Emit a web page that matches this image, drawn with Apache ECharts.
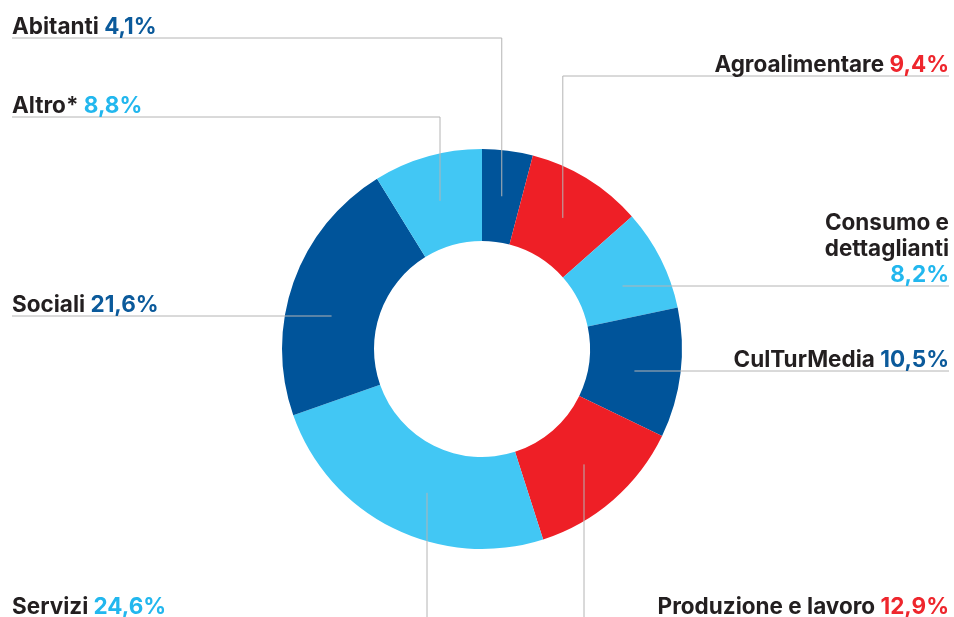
<!DOCTYPE html>
<html><head><meta charset="utf-8">
<script src="https://cdn.jsdelivr.net/npm/echarts@6/dist/echarts.min.js"></script>
<style>html,body{margin:0;padding:0;background:#fff}#c{width:954px;height:617px}</style>
</head><body><div id="c"></div>
<script>
// ---- data ----
const categories = ['Abitanti', 'Agroalimentare', 'Consumo e dettaglianti', 'CulTurMedia', 'Produzione e lavoro', 'Servizi', 'Sociali', 'Altro*'];
const shares = [4.1, 9.4, 8.2, 10.5, 12.9, 24.6, 21.6, 8.8];
const colorKeys = ['dark', 'red', 'light', 'dark', 'red', 'light', 'dark', 'light'];
const labelBreaks = { 'Consumo e dettaglianti': ['Consumo e', 'dettaglianti'] };

// ---- styling / layout ----
const PALETTE = { dark: '#00549a', red: '#ee1f26', light: '#42c7f4' };
const PCT_COLOR = { dark: '#0b5a9b', red: '#ee262d', light: '#22b7ee' };
const FONT = 'Inter, "Liberation Sans", Arial, sans-serif';
const FS = 22.5, LH = 26;
const CENTER = [482, 349];
const R_IN = 108, R_OUT = 200, R_ANCHOR = 154;
const LEFT_X = 12, RIGHT_PAD = 5;
const LABEL_LAYOUT = [
  { side: 'left', kind: 'elbow', y: 38 },
  { side: 'right', kind: 'elbow', y: 76 },
  { side: 'right', kind: 'flat', y: 286 },
  { side: 'right', kind: 'flat', y: 371 },
  { side: 'right', kind: 'down', x: 584 },
  { side: 'left', kind: 'down', x: 427 },
  { side: 'left', kind: 'flat', y: 316 },
  { side: 'left', kind: 'elbow', y: 117 }
];

const chart = echarts.init(document.getElementById('c'), null, { renderer: 'canvas' });
const total = shares.reduce((a, b) => a + b, 0);
const fmtPct = v => v.toFixed(1).replace('.', ',') + '%';

const sliceData = categories.map((name, i) => ({
  name, value: shares[i],
  itemStyle: { color: PALETTE[colorKeys[i]] }
}));
const labelData = categories.map((name, i) => ({
  name, value: shares[i],
  itemStyle: { color: 'rgba(0,0,0,0)' }
}));

const txt = c => ({ fontFamily: FONT, fontWeight: 'bold', fontSize: FS, color: c, lineHeight: LH });
const rich = {
  n: txt('#231f20'),
  dark: txt(PCT_COLOR.dark),
  red: txt(PCT_COLOR.red),
  light: txt(PCT_COLOR.light)
};

const base = {
  type: 'pie',
  center: CENTER,
  radius: [R_IN, R_OUT],
  startAngle: 90,
  clockwise: true,
  avoidLabelOverlap: false,
  emphasis: { disabled: true },
  silent: true
};

chart.setOption({
  animation: false,
  series: [
    Object.assign({}, base, { z: 2, data: sliceData, label: { show: false }, labelLine: { show: false } }),
    Object.assign({}, base, {
      z: 5,
      data: labelData,
      label: {
        show: true,
        position: 'outside',
        formatter: p => {
          const i = p.dataIndex;
          const pct = '{' + colorKeys[i] + '|' + fmtPct(shares[i]) + '}';
          const br = labelBreaks[categories[i]];
          if (br) return br.map(s => '{n|' + s + '}').join('\n') + '\n' + pct;
          return '{n|' + categories[i] + ' }' + pct;
        },
        rich
      },
      labelLine: { show: true, smooth: false, length: 10, length2: 10, lineStyle: { color: '#b4b4b4', width: 1 } },
      labelLayout: params => {
        const i = params.dataIndex;
        const W = chart.getWidth(), H = chart.getHeight();
        const [cx, cy] = CENTER;
        let before = 0;
        for (let k = 0; k < i; k++) before += shares[k];
        const ang = (before + shares[i] / 2) / total * Math.PI * 2;
        let ax = cx + R_ANCHOR * Math.sin(ang), ay = cy - R_ANCHOR * Math.cos(ang);
        const L = LABEL_LAYOUT[i];
        const endX = L.side === 'left' ? LEFT_X : W - RIGHT_PAD;
        let pts, ly;
        if (L.kind === 'flat') {
          const dy = L.y - cy;
          const dx = Math.sqrt(R_ANCHOR * R_ANCHOR - dy * dy);
          ax = cx + (L.side === 'left' ? -dx : dx); ay = L.y;
          pts = [[ax, ay], [endX, ay], [endX, ay]];
          ly = L.y + 2;
        } else if (L.kind === 'elbow') {
          pts = [[ax, ay], [ax, L.y], [endX, L.y]];
          ly = L.y + 2;
        } else {
          const dx = L.x - cx;
          ax = L.x; ay = cy + Math.sqrt(R_ANCHOR * R_ANCHOR - dx * dx);
          pts = [[ax, ay], [ax, H], [ax, H]];
          ly = H + 3;
        }
        return {
          x: endX, y: ly, align: L.side, verticalAlign: 'bottom',
          labelLinePoints: pts
        };
      }
    })
  ]
});
</script></body></html>
